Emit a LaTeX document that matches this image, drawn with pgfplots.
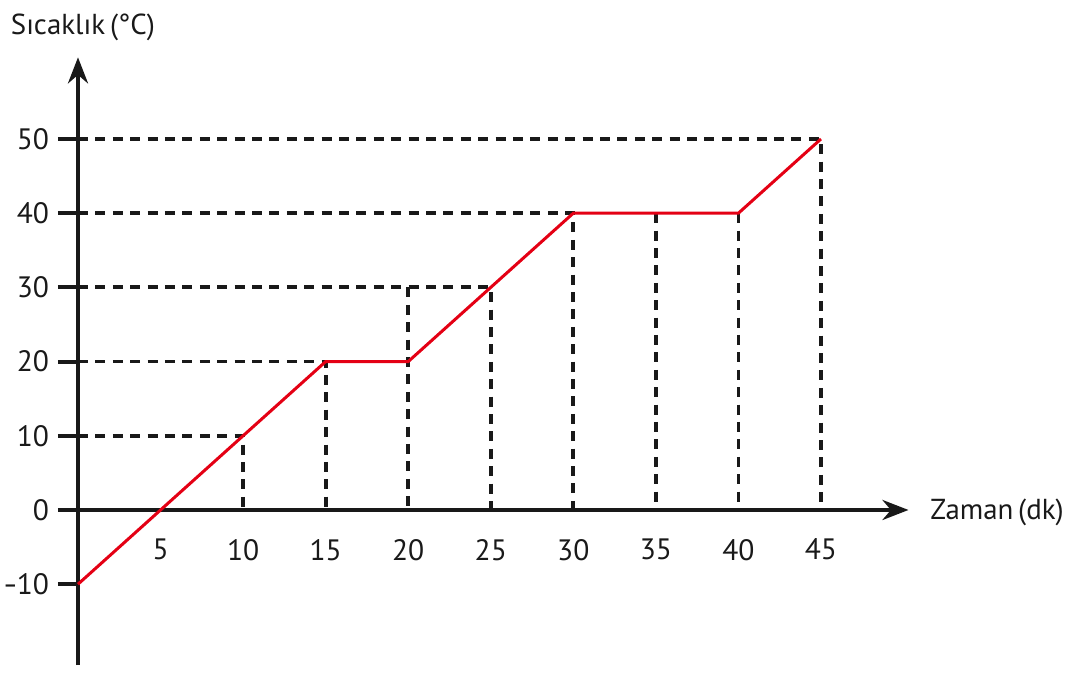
\documentclass[border=0pt]{standalone}
\usepackage{pgfplots}
\pgfplotsset{compat=1.18}
\usepackage{fontspec}
\setmainfont{PT Sans}
\usetikzlibrary{arrows.meta}
\definecolor{lred}{RGB}{228,0,20}
\definecolor{ink}{RGB}{25,25,25}
\begin{document}
\begin{tikzpicture}
\begin{axis}[
  x=8.255bp, y=3.71bp,
  axis lines=middle,
  xmin=0, xmax=50.3, ymin=-20.9, ymax=61,
  clip=false,
  axis line style={line width=2bp, ink},
  x axis line style={-{Stealth[length=13bp,width=10bp]}},
  y axis line style={-{Stealth[length=13bp,width=10bp]}},
  xtick={5,10,15,20,25,30,35,40,45},
  xticklabels={5,10,15,20,25,30,35,40,45},
  ytick={-10,0,10,20,30,40,50},
  yticklabels={{\scalebox{0.75}[1]{–}\kern-0.5bp10},0,10,20,30,40,50},
  hide obscured x ticks=false,
  hide obscured y ticks=false,
  tick align=outside,
  major tick length=10bp,
  xtick style={draw=none},
  ytick style={line width=2bp, ink},
  tick label style={font=\fontsize{14.8}{16}\selectfont, text=ink},
  xticklabel style={anchor=north, yshift=-1bp},
  yticklabel style={anchor=east, xshift=-1bp},
  dsh/.style={ink, line width=1.9bp, dash pattern=on 5bp off 3.7bp},
]
\addplot[dsh] coordinates {(0,10) (10,10) (10,0)};
\addplot[dsh] coordinates {(0,20) (15,20) (15,0)};
\addplot[dsh] coordinates {(0,30) (25,30) (25,0)};
\addplot[dsh] coordinates {(20,30) (20,0)};
\addplot[dsh] coordinates {(0,40) (30,40) (30,0)};
\addplot[dsh] coordinates {(35,40) (35,0)};
\addplot[dsh] coordinates {(40,40) (40,0)};
\addplot[dsh] coordinates {(0,50) (45,50) (45,0)};
\addplot[lred, line width=1.5bp] coordinates {(0,-10) (15,20) (20,20) (30,40) (40,40) (45,50)};
\node[font=\fontsize{14.5}{16}\selectfont, text=ink] at (axis cs:0.3,65) {Sıcaklık\,(°C)};
\node[font=\fontsize{14.5}{16}\selectfont, text=ink, anchor=west] at (axis cs:51.2,-0.3) {Zaman\,(dk)};
\coordinate (bl) at (axis cs:-4.724,-23.05);
\coordinate (tr) at (axis cs:59.84,68.73);
\end{axis}
\pgfresetboundingbox
\useasboundingbox (bl) rectangle (tr);
\end{tikzpicture}
\end{document}
